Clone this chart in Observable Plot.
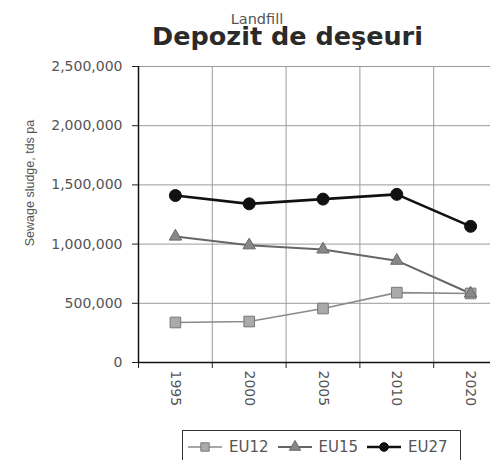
<!DOCTYPE html>
<html>
<head>
<meta charset="utf-8">
<script src="https://cdn.jsdelivr.net/npm/d3@7"></script>
<script src="https://cdn.jsdelivr.net/npm/@observablehq/plot@0.6"></script>
<style>
  html, body { margin: 0; padding: 0; background: #fff; }
  #wrap { position: relative; width: 490px; height: 460px; overflow: hidden; background: #fff; }
  #chart { position: absolute; left: 0; top: 0; width: 510px; }
  #chart svg { max-width: none !important; width: 510px; height: 460px; }
  .title { position: absolute; left: 0; width: 575px; top: 24px; text-align: center;
           font: bold 25.5px "DejaVu Sans", sans-serif; line-height: 25px; color: #2a2a2a; white-space: nowrap; }
  .subtitle { position: absolute; left: 0; width: 514px; top: 12px; text-align: center;
           font: 14.5px "DejaVu Sans", sans-serif; line-height: 15px; color: #555; white-space: nowrap; }
  .ylabel { position: absolute; left: 30px; top: 183px; transform: translate(-50%, -50%) rotate(-90deg);
           font: 12.5px "Liberation Sans", sans-serif; color: #555; white-space: nowrap; }
  .legend { position: absolute; left: 182px; top: 430px; width: 279px; height: 50px;
           border: 1px solid #333; box-sizing: border-box; display: flex; align-items: flex-start;
           padding: 7px 0 0 5px; gap: 9px; font: 15px "DejaVu Sans", sans-serif; color: #555; }
  .legend .item { display: flex; align-items: center; gap: 7px; line-height: 18px; }
</style>
</head>
<body>
<div id="wrap">
  <div id="chart"></div>
  <div class="subtitle">Landfill</div>
  <div class="title">Depozit de deşeuri</div>
  <div class="ylabel">Sewage sludge, tds pa</div>
  <div class="legend" id="legend"></div>
</div>
<script>
// ---- data ----
const years = ["1995", "2000", "2005", "2010", "2020"];
const seriesNames = ["EU12", "EU15", "EU27"];
const eu12 = [338000, 346000, 456000, 590000, 583000];
const eu15 = [1064000, 990000, 955000, 860000, 583000];
const eu27 = [1410000, 1340000, 1380000, 1420000, 1150000];
const yTicks = [0, 500000, 1000000, 1500000, 2000000, 2500000];

// ---- styles ----
const styles = {
  EU12: {stroke: "#8a8a8a", strokeWidth: 1.6, symbol: "square", r: 6, fill: "#aaa", mstroke: "#777"},
  EU15: {stroke: "#666", strokeWidth: 2, symbol: "triangle", r: 4.6, fill: "#888", mstroke: "#666"},
  EU27: {stroke: "#111", strokeWidth: 2.6, symbol: "circle", r: 6, fill: "#111", mstroke: "#111"}
};

const valuesBySeries = {EU12: eu12, EU15: eu15, EU27: eu27};
const rows = seriesNames.flatMap(s => years.map((y, i) => ({series: s, i, year: y, value: valuesBySeries[s][i]})));
const idx = years.map((d, i) => i);
const bounds = [...idx.map(i => i - 0.5), years.length - 0.5];

const W = 510;
const marks = [
  Plot.gridY({ticks: yTicks, stroke: "#9a9a9a", strokeOpacity: 1}),
  Plot.ruleX(bounds, {stroke: "#9a9a9a"}),
  Plot.axisY({ticks: yTicks, tickFormat: d3.format(","), tickSize: 6, tickPadding: 10,
              fontSize: 14, fill: "#555", stroke: "#222", label: null}),
  Plot.axisX({ticks: bounds, tickFormat: () => "", tickSize: 6, stroke: "#222", label: null}),
  Plot.axisX({ticks: idx, tickFormat: i => years[i], tickSize: 0, tickPadding: 8, tickRotate: 90,
              fontSize: 14, fill: "#555", label: null}),
  Plot.ruleX([-0.5], {stroke: "#111", strokeWidth: 1.5}),
  Plot.ruleY([0], {stroke: "#111", strokeWidth: 1.5})
];
for (const s of seriesNames) {
  const st = styles[s];
  const d = rows.filter(r => r.series === s);
  marks.push(Plot.line(d, {x: "i", y: "value", stroke: st.stroke, strokeWidth: st.strokeWidth}));
}
for (const s of seriesNames) {
  const st = styles[s];
  const d = rows.filter(r => r.series === s);
  marks.push(Plot.dot(d, {x: "i", y: "value", symbol: st.symbol, r: st.r, fill: st.fill, stroke: st.mstroke, strokeWidth: 1}));
}

const chart = Plot.plot({
  width: W,
  height: 460,
  marginLeft: 138,
  marginRight: 3,
  marginTop: 66,
  marginBottom: 98,
  style: {fontFamily: "DejaVu Sans, sans-serif", background: "transparent", maxWidth: "none"},
  x: {type: "linear", domain: [-0.5, years.length - 0.5], axis: null},
  y: {domain: [0, 2500000], axis: null},
  marks
});
document.getElementById("chart").appendChild(chart);

// ---- legend ----
const legend = document.getElementById("legend");
const symPath = {
  square: d3.symbol(d3.symbolSquare, 70)(),
  triangle: d3.symbol(d3.symbolTriangle, 55)(),
  circle: d3.symbol(d3.symbolCircle, 60)()
};
for (const s of seriesNames) {
  const st = styles[s];
  const item = document.createElement("div");
  item.className = "item";
  item.innerHTML = `<svg width="34" height="14"><line x1="0" x2="34" y1="7" y2="7" stroke="${st.stroke}" stroke-width="${st.strokeWidth}"/>` +
    `<path transform="translate(17,7)" d="${symPath[st.symbol]}" fill="${st.fill}" stroke="${st.mstroke}"/></svg><span>${s}</span>`;
  legend.appendChild(item);
}
</script>
</body>
</html>
